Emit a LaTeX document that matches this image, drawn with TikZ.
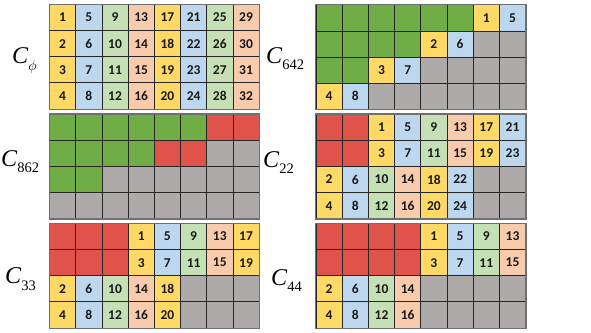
\documentclass[tikz,border=0pt]{standalone}
\usepackage{fontspec}
\setmainfont{Liberation Serif}
\newfontfamily\numfont{Carlito}
\definecolor{cY}{HTML}{FFD966}
\definecolor{cB}{HTML}{BDD7EE}
\definecolor{cG}{HTML}{C5E0B4}
\definecolor{cO}{HTML}{F8CBAD}
\definecolor{cD}{HTML}{70AD47}
\definecolor{cR}{HTML}{E0534A}
\definecolor{cX}{HTML}{AEAAAA}
\definecolor{linecol}{HTML}{262626}
\definecolor{framecol}{HTML}{6F6F6F}
\tikzset{
  cell/.style={draw=linecol, line width=0.7pt, minimum width=26.2pt, minimum height=26.1pt, inner sep=0pt,
    font={\numfont\bfseries\fontsize{13.5}{13.5}\selectfont}, text=black!90},
  frame/.style={draw=framecol, line width=1.3pt},
  clabel/.style={anchor=base west, inner sep=0pt, font={\fontsize{24}{24}\selectfont}}
}
\newcommand\gridrow[5]{%
  \foreach \kk/\lab [count=\i] in {#5} {
    \node[cell, fill=c\kk] (#1-#4-\i) at ({#2+(\i-0.5)*26.2},{#3+(#4-0.5)*26.1}) {\lab};
  }%
}
\newcommand\subsc[1]{\raisebox{-6.5pt}{\fontsize{14.5}{14.5}\selectfont #1}}
\begin{document}
\begin{tikzpicture}[x=1pt,y=-1pt]
\useasboundingbox (0,0) rectangle (591,332);
\fill[white] (0,0) rectangle (591,332);
% Grid 1: C_phi
\gridrow{ga}{49.5}{4.5}{1}{Y/1,B/5,G/9,O/13,Y/17,B/21,G/25,O/29}
\gridrow{ga}{49.5}{4.5}{2}{Y/2,B/6,G/10,O/14,Y/18,B/22,G/26,O/30}
\gridrow{ga}{49.5}{4.5}{3}{Y/3,B/7,G/11,O/15,Y/19,B/23,G/27,O/31}
\gridrow{ga}{49.5}{4.5}{4}{Y/4,B/8,G/12,O/16,Y/20,B/24,G/28,O/32}
\draw[frame] (ga-1-1.north west) rectangle (ga-4-8.south east);
% Grid 2: C_642
\gridrow{gb}{316}{4.8}{1}{D/{},D/{},D/{},D/{},D/{},D/{},Y/1,B/5}
\gridrow{gb}{316}{4.8}{2}{D/{},D/{},D/{},D/{},Y/2,B/6,X/{},X/{}}
\gridrow{gb}{316}{4.8}{3}{D/{},D/{},Y/3,B/7,X/{},X/{},X/{},X/{}}
\gridrow{gb}{316}{4.8}{4}{Y/4,B/8,X/{},X/{},X/{},X/{},X/{},X/{}}
\draw[frame] (gb-1-1.north west) rectangle (gb-4-8.south east);
% Grid 3: C_862
\gridrow{gc}{49.5}{114.3}{1}{D/{},D/{},D/{},D/{},D/{},D/{},R/{},R/{}}
\gridrow{gc}{49.5}{114.3}{2}{D/{},D/{},D/{},D/{},R/{},R/{},X/{},X/{}}
\gridrow{gc}{49.5}{114.3}{3}{D/{},D/{},X/{},X/{},X/{},X/{},X/{},X/{}}
\gridrow{gc}{49.5}{114.3}{4}{X/{},X/{},X/{},X/{},X/{},X/{},X/{},X/{}}
\draw[frame] (gc-1-1.north west) rectangle (gc-4-8.south east);
% Grid 4: C_22
\gridrow{gd}{316}{114.3}{1}{R/{},R/{},Y/1,B/5,G/9,O/13,Y/17,B/21}
\gridrow{gd}{316}{114.3}{2}{R/{},R/{},Y/3,B/7,G/11,O/15,Y/19,B/23}
\gridrow{gd}{316}{114.3}{3}{Y/2,B/6,G/10,O/14,Y/18,B/22,X/{},X/{}}
\gridrow{gd}{316}{114.3}{4}{Y/4,B/8,G/12,O/16,Y/20,B/24,X/{},X/{}}
\draw[frame] (gd-1-1.north west) rectangle (gd-4-8.south east);
% Grid 5: C_33
\gridrow{ge}{49.5}{223.5}{1}{R/{},R/{},R/{},Y/1,B/5,G/9,O/13,Y/17}
\gridrow{ge}{49.5}{223.5}{2}{R/{},R/{},R/{},Y/3,B/7,G/11,O/15,Y/19}
\gridrow{ge}{49.5}{223.5}{3}{Y/2,B/6,G/10,O/14,Y/18,X/{},X/{},X/{}}
\gridrow{ge}{49.5}{223.5}{4}{Y/4,B/8,G/12,O/16,Y/20,X/{},X/{},X/{}}
\draw[frame] (ge-1-1.north west) rectangle (ge-4-8.south east);
% Grid 6: C_44
\gridrow{gf}{316}{223.5}{1}{R/{},R/{},R/{},R/{},Y/1,B/5,G/9,O/13}
\gridrow{gf}{316}{223.5}{2}{R/{},R/{},R/{},R/{},Y/3,B/7,G/11,O/15}
\gridrow{gf}{316}{223.5}{3}{Y/2,B/6,G/10,O/14,X/{},X/{},X/{},X/{}}
\gridrow{gf}{316}{223.5}{4}{Y/4,B/8,G/12,O/16,X/{},X/{},X/{},X/{}}
\draw[frame] (gf-1-1.north west) rectangle (gf-4-8.south east);
% Labels
\node[clabel] (la) at (12,63) {\textit{C}\raisebox{-7pt}{\fontsize{15}{15}\selectfont$\phi$}};
\node[clabel] (lb) at (266,63) {\textit{C}\subsc{642}};
\node[clabel] (lc) at (1,166) {\textit{C}\subsc{862}};
\node[clabel] (ld) at (263,167) {\textit{C}\subsc{22}};
\node[clabel] (le) at (5,283.5) {\textit{C}\subsc{33}};
\node[clabel] (lf) at (271,285) {\textit{C}\subsc{44}};
\end{tikzpicture}
\end{document}
